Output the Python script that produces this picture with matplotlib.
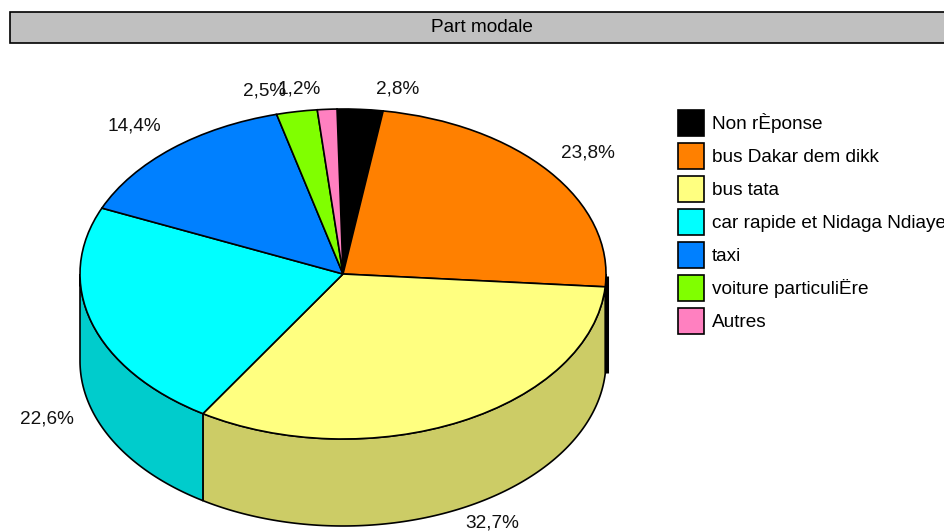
import numpy as np
import matplotlib
matplotlib.use("Agg")
import matplotlib.pyplot as plt
from matplotlib.patches import Rectangle, Polygon

plt.rcParams['font.family'] = ['Liberation Sans', 'DejaVu Sans']

title = "Part modale"
categories = ["Non rÈponse", "bus Dakar dem dikk", "bus tata", "car rapide et Nidaga Ndiaye",
              "taxi", "voiture particuliËre", "Autres"]
values = [2.8, 23.8, 32.7, 22.6, 14.4, 2.5, 1.2]
value_labels = ["2,8%", "23,8%", "32,7%", "22,6%", "14,4%", "2,5%", "1,2%"]
colors = ["#000000", "#FF8000", "#FFFF80", "#00FFFF", "#0080FF", "#80FF00", "#FF80C0"]
wall_colors = ["#000000", "#CC6600", "#CCCC66", "#00CCCC", "#0066CC", "#66CC00", "#CC6699"]
label_px = [(398, 89), (588, 153), (492, 523), (47, 419), (134, 126), (265, 91), (299, 89)]

W, H = 945, 531
CX, CY, RX, RY, DEPTH = 343, 274, 263, 165, 87
START = 91.3
FS = 13.7

fig = plt.figure(figsize=(W / 100, H / 100), dpi=100, facecolor="white")
ax = fig.add_axes([0, 0, 1, 1])

wedges, _ = ax.pie(values, colors=colors, startangle=START, counterclock=False, radius=1,
                   wedgeprops=dict(edgecolor="black", linewidth=1.2, zorder=3))
ax.set_aspect("auto")
ax.set_xlim(-CX / RX, (W - CX) / RX)
ax.set_ylim((CY - H) / RY, CY / RY)
ax.axis("off")

depth = DEPTH / RY
total = sum(values)
edges = START - 360 * np.cumsum([0] + values) / total
for a0, a1, c in zip(edges[:-1], edges[1:], wall_colors):
    # visible front part of the side wall: lower half of the ellipse
    lo, hi = max(a1, -180), min(a0, 0)
    if hi <= lo:
        continue
    t = np.radians(np.linspace(hi, lo, 120))
    x, y = np.cos(t), np.sin(t)
    pts = np.r_[np.c_[x, y], np.c_[x, y - depth][::-1]]
    ax.add_patch(Polygon(pts, closed=True, facecolor=c, edgecolor="black", linewidth=1.2, zorder=2))

# dark sliver on the right rim
ax.plot([(607 - CX) / RX] * 2, [(CY - 276) / RY, (CY - 373) / RY], color="black",
        lw=2.2, solid_capstyle="butt", zorder=1)

# title bar
fig.add_artist(Rectangle((10 / W, 1 - 43 / H), (W + 20) / W, 31 / H, transform=fig.transFigure,
                         facecolor="#C0C0C0", edgecolor="black", linewidth=1.2))
fig.text(482 / W, 1 - 28 / H, title, ha="center", va="center", fontsize=FS, color="black")

for lab, (px, py) in zip(value_labels, label_px):
    fig.text(px / W, 1 - py / H, lab, ha="center", va="center", fontsize=FS, color="#111111")

# legend
handles = [Rectangle((0, 0), 1, 1, facecolor=c, edgecolor="black", linewidth=1.2) for c in colors]
fs_px = FS * 100 / 72
hh = (26 / fs_px - 0.245) / 0.65
ax.legend(handles, categories, loc="upper left", bbox_to_anchor=(678 / W, 1 - 110 / H),
          bbox_transform=fig.transFigure, frameon=False, fontsize=FS, borderpad=0, borderaxespad=0,
          handlelength=26 / fs_px, handleheight=hh, labelspacing=7 / fs_px,
          handletextpad=8 / fs_px)

fig.savefig("out.png", dpi=100, facecolor="white")
